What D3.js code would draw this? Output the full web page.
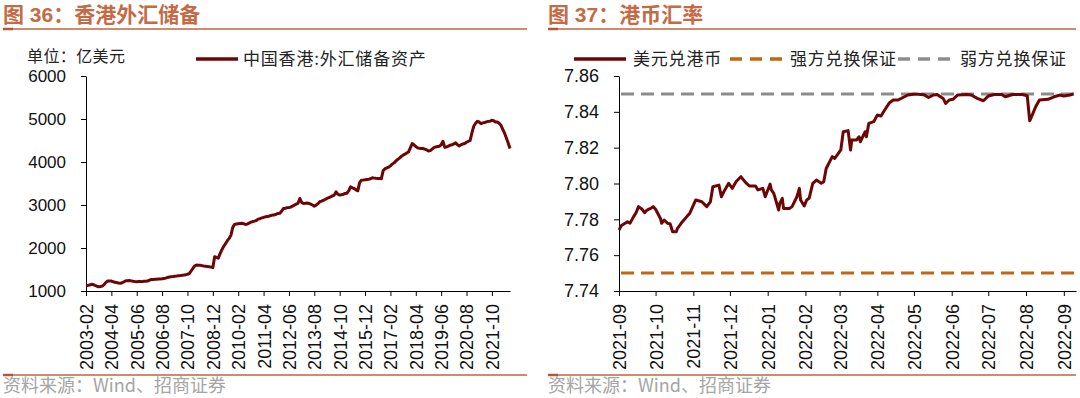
<!DOCTYPE html>
<html><head><meta charset="utf-8">
<script src="https://cdn.jsdelivr.net/npm/d3@7"></script>
<style>
html,body{margin:0;padding:0;background:#fff;}
svg{display:block;}
</style></head><body>
<svg id="c" width="1080" height="398"></svg>
<script>
// ---------------- DATA ----------------
// Left: Hong Kong FX reserve assets (100 million USD), monthly from 2003-02
const reserveStart = "2003-02";
const reserves = [
  1124,1130,1140,1155,1150,1130,1112,1100,1105,1115,1150,            // 2003 Feb-Dec
  1200,1232,1235,1230,1215,1205,1195,1185,1180,1190,1215,1240,       // 2004
  1240,1245,1235,1225,1220,1217,1220,1222,1218,1225,1228,1232,       // 2005
  1250,1270,1265,1272,1275,1280,1278,1283,1292,1300,1315,1325,       // 2006
  1333,1338,1345,1350,1356,1360,1365,1372,1380,1390,1405,1465,       // 2007
  1526,1585,1604,1600,1598,1590,1580,1575,1570,1565,1555,1545,       // 2008
  1797,1780,1765,1870,1960,2040,2100,2170,2223,2300,2480,2550,       // 2009
  2560,2565,2570,2575,2565,2548,2555,2580,2600,2615,2625,2640,       // 2010
  2672,2680,2700,2710,2726,2730,2740,2755,2765,2770,2785,2803,       // 2011
  2810,2860,2920,2925,2935,2940,2950,2975,2997,3020,3040,3152,       // 2012
  3060,3036,3040,3045,3036,3020,3000,2974,2995,3030,3075,3090,       // 2013
  3110,3130,3152,3170,3190,3210,3230,3306,3250,3230,3240,3250,       // 2014
  3268,3275,3330,3423,3400,3384,3350,3330,3520,3577,3580,3585,       // 2015
  3593,3600,3610,3632,3625,3620,3618,3616,3612,3800,3840,3865,       // 2016
  3880,3910,3950,3980,4020,4060,4090,4130,4160,4181,4210,4235,       // 2017
  4330,4429,4400,4360,4328,4320,4315,4313,4300,4280,4258,4265,       // 2018
  4300,4336,4350,4360,4367,4400,4483,4340,4350,4370,4390,4400,       // 2019
  4420,4444,4400,4375,4400,4420,4430,4460,4483,4500,4680,4831,       // 2020
  4900,4947,4930,4893,4910,4920,4932,4945,4950,4970,4960,4932,       // 2021
  4930,4900,4855,4760,4670,4560,4440,4313                            // 2022 Jan-Aug
];
const leftXTicks = ["2003-02","2004-04","2005-06","2006-08","2007-10","2008-12","2010-02",
  "2011-04","2012-06","2013-08","2014-10","2015-12","2017-02","2018-04","2019-06","2020-08","2021-10"];
const leftYTicks = [1000,2000,3000,4000,5000,6000];

// Right: USD/HKD
const fxDates = [
  "2021-09-01","2021-09-03","2021-09-06","2021-09-08","2021-09-10","2021-09-13","2021-09-15","2021-09-17",
  "2021-09-20","2021-09-22","2021-09-24","2021-09-27","2021-09-29","2021-10-01","2021-10-05","2021-10-06",
  "2021-10-08","2021-10-11","2021-10-13","2021-10-15","2021-10-18","2021-10-19","2021-10-22","2021-10-27",
  "2021-10-29","2021-11-03","2021-11-08","2021-11-12","2021-11-15","2021-11-17","2021-11-22","2021-11-24",
  "2021-11-26","2021-11-30","2021-12-03","2021-12-06","2021-12-10","2021-12-14","2021-12-17","2021-12-22",
  "2021-12-24","2021-12-28","2021-12-30","2022-01-03","2022-01-04","2022-01-06","2022-01-10","2022-01-11",
  "2022-01-13","2022-01-14","2022-01-19","2022-01-21","2022-01-25","2022-01-27","2022-01-28","2022-01-31",
  "2022-02-02","2022-02-04","2022-02-07","2022-02-10","2022-02-14","2022-02-16","2022-02-18","2022-02-23",
  "2022-02-25","2022-02-28","2022-03-02","2022-03-04","2022-03-08","2022-03-10","2022-03-11","2022-03-15",
  "2022-03-17","2022-03-18","2022-03-22","2022-03-23","2022-03-25","2022-03-29","2022-04-01","2022-04-04",
  "2022-04-07","2022-04-11","2022-04-14","2022-04-18","2022-04-22","2022-04-26","2022-05-02","2022-05-09",
  "2022-05-13","2022-05-17","2022-05-20","2022-05-25","2022-05-27","2022-05-30","2022-06-02","2022-06-06",
  "2022-06-13","2022-06-17","2022-06-22","2022-06-27","2022-07-01","2022-07-06","2022-07-12","2022-07-15",
  "2022-07-21","2022-07-29","2022-08-02","2022-08-04","2022-08-05","2022-08-09","2022-08-12","2022-08-19",
  "2022-08-24","2022-08-29","2022-09-01","2022-09-06","2022-09-09"
];
const fxValues = [
  7.7740,7.7765,7.7778,7.7787,7.7778,7.7815,7.7837,7.7871,
  7.7856,7.7837,7.7852,7.7861,7.7871,7.7856,7.7805,7.7778,
  7.7796,7.7778,7.7774,7.7731,7.7731,7.7750,7.7778,7.7818,
  7.7833,7.7908,7.7898,7.7871,7.7898,7.7982,7.7991,7.7926,
  7.7954,7.8001,7.7973,7.8010,7.8038,7.8005,7.7986,7.7986,
  7.7964,7.7973,7.7926,7.7997,7.7964,7.7945,7.7852,7.7890,
  7.7917,7.7861,7.7861,7.7871,7.7926,7.7973,7.7908,7.7875,
  7.7908,7.7917,7.8001,7.8019,7.8001,7.8010,7.8084,7.8150,
  7.8140,7.8168,7.8187,7.8289,7.8295,7.8187,7.8243,7.8243,
  7.8261,7.8233,7.8289,7.8261,7.8336,7.8345,7.8382,7.8377,
  7.8410,7.8451,7.8466,7.8466,7.8480,7.8494,7.8500,7.8496,
  7.8480,7.8494,7.8497,7.8475,7.8447,7.8466,7.8470,7.8494,
  7.8497,7.8494,7.8475,7.8462,7.8488,7.8497,7.8497,7.8484,
  7.8497,7.8497,7.8490,7.8350,7.8365,7.8430,7.8466,7.8470,
  7.8484,7.8494,7.8488,7.8494,7.8500
];
const strongSide = 7.75;
const weakSide = 7.85;
const rightXTicks = ["2021-09","2021-10","2021-11","2021-12","2022-01","2022-02","2022-03",
  "2022-04","2022-05","2022-06","2022-07","2022-08","2022-09"];
const rightYTicks = [7.74,7.76,7.78,7.80,7.82,7.84,7.86];

// ---------------- DRAW ----------------
const svg = d3.select("#c");
const NUM = "'Liberation Sans', Arial, sans-serif";
const CJK = "'Noto Sans CJK SC', sans-serif";
const titleColor = "#C46A45";
const ruleColor = "#D08A6C";
const lineColor = "#6E0505";

function panelFrame(x0, x1, title) {
  svg.append("text").attr("x", x0).attr("y", 22)
    .attr("font-family", "'Liberation Sans','Noto Sans CJK SC',sans-serif")
    .attr("font-weight", 700).attr("font-size", 21).attr("fill", titleColor)
    .text(title);
  [29, 375].forEach(yy => {
    svg.append("line").attr("x1", x0).attr("x2", x1).attr("y1", yy).attr("y2", yy)
      .attr("stroke", ruleColor).attr("stroke-width", 2);
    svg.append("line").attr("x1", x0).attr("x2", x0 + 10).attr("y1", yy).attr("y2", yy)
      .attr("stroke", "#B0583A").attr("stroke-width", 2.5);
  });
  svg.append("text").attr("x", x0).attr("y", 392)
    .attr("font-family", "'Noto Sans CJK SC','Liberation Sans',sans-serif")
    .attr("font-size", 18).attr("fill", "#A5A5A5")
    .text("资料来源：Wind、招商证券");
}
panelFrame(3, 527, "图 36：香港外汇储备");
panelFrame(548, 1076, "图 37：港币汇率");

function styleAxis(g) {
  g.selectAll("path.domain").attr("stroke", "#000").attr("stroke-width", 1);
  g.selectAll(".tick line").attr("stroke", "#000").attr("stroke-width", 1);
  g.selectAll("text").attr("fill", "#111").attr("font-family", NUM);
}
function rotateLabels(g) {
  g.selectAll("text").attr("transform", "rotate(-90)").attr("text-anchor", "end")
    .attr("x", -13).attr("y", 0).attr("dy", "0.36em").attr("font-size", 18);
}

// ----- Left chart -----
const parseM = d3.timeParse("%Y-%m");
const fmtM = d3.timeFormat("%Y-%m");
const start = parseM(reserveStart);
const monthLabels = reserves.map((_, i) => fmtM(d3.timeMonth.offset(start, i)));
const yTop = 76, yBot = 291;

const xL = d3.scalePoint().domain(monthLabels).range([86, 510]);
const yL = d3.scaleLinear().domain([1000, 6000]).range([yBot, yTop]);

const gLX = svg.append("g").attr("transform", `translate(0,${yBot})`)
  .call(d3.axisBottom(xL).tickValues(leftXTicks).tickSize(5).tickSizeOuter(0));
styleAxis(gLX); rotateLabels(gLX);
const gLY = svg.append("g").attr("transform", `translate(86,0)`)
  .call(d3.axisLeft(yL).tickValues(leftYTicks).tickSize(5).tickSizeOuter(0).tickPadding(15).tickFormat(d3.format("d")));
styleAxis(gLY); gLY.selectAll("text").attr("font-size", 17);

svg.append("path").datum(reserves)
  .attr("fill", "none").attr("stroke", lineColor).attr("stroke-width", 3)
  .attr("stroke-linejoin", "round")
  .attr("d", d3.line().x((d, i) => xL(monthLabels[i])).y(d => yL(d)));

svg.append("text").attr("x", 27).attr("y", 62).attr("font-family", CJK)
  .attr("font-size", 16).attr("letter-spacing", 0.4).attr("fill", "#222").text("单位：亿美元");
svg.append("line").attr("x1", 196).attr("x2", 238).attr("y1", 59).attr("y2", 59)
  .attr("stroke", lineColor).attr("stroke-width", 3.5);
svg.append("text").attr("x", 243).attr("y", 65).attr("font-family", CJK)
  .attr("font-size", 17).attr("letter-spacing", 0.8).attr("fill", "#222").text("中国香港:外汇储备资产");

// ----- Right chart -----
const parseD = d3.timeParse("%Y-%m-%d");
const fxData = fxDates.map((d, i) => ({ date: parseD(d), v: fxValues[i] }));
const xR = d3.scaleTime().domain([parseD("2021-09-01"), parseD("2022-09-11")]).range([619, 1076]);
const yR = d3.scaleLinear().domain([7.74, 7.86]).range([yBot, yTop]);

const gRX = svg.append("g").attr("transform", `translate(0,${yBot})`)
  .call(d3.axisBottom(xR).tickValues(rightXTicks.map(parseM)).tickFormat(fmtM).tickSize(5).tickSizeOuter(0));
styleAxis(gRX); rotateLabels(gRX);
const gRY = svg.append("g").attr("transform", `translate(619,0)`)
  .call(d3.axisLeft(yR).tickValues(rightYTicks).tickSize(5).tickSizeOuter(0).tickPadding(15).tickFormat(d3.format(".2f")));
styleAxis(gRY); gRY.selectAll("text").attr("font-size", 18);

const orange = "#C5650F", grey = "#8C8C8C";
[[weakSide, grey], [strongSide, orange]].forEach(([v, c]) => {
  svg.append("line").attr("x1", xR.range()[0] + 2).attr("x2", xR.range()[1])
    .attr("y1", yR(v)).attr("y2", yR(v))
    .attr("stroke", c).attr("stroke-width", 3).attr("stroke-dasharray", "13,7");
});

svg.append("path").datum(fxData)
  .attr("fill", "none").attr("stroke", lineColor).attr("stroke-width", 3)
  .attr("stroke-linejoin", "round")
  .attr("d", d3.line().x(d => xR(d.date)).y(d => yR(d.v)));

// legend
const legY = 59;
svg.append("line").attr("x1", 574).attr("x2", 626).attr("y1", legY).attr("y2", legY)
  .attr("stroke", lineColor).attr("stroke-width", 3.5);
svg.append("text").attr("x", 633).attr("y", 65).attr("font-family", CJK)
  .attr("font-size", 17).attr("letter-spacing", 0.8).attr("fill", "#222").text("美元兑港币");
svg.append("line").attr("x1", 730).attr("x2", 783).attr("y1", legY).attr("y2", legY)
  .attr("stroke", orange).attr("stroke-width", 3.5).attr("stroke-dasharray", "12,8");
svg.append("text").attr("x", 790).attr("y", 65).attr("font-family", CJK)
  .attr("font-size", 17).attr("letter-spacing", 0.8).attr("fill", "#222").text("强方兑换保证");
svg.append("line").attr("x1", 898).attr("x2", 951).attr("y1", legY).attr("y2", legY)
  .attr("stroke", grey).attr("stroke-width", 3.5).attr("stroke-dasharray", "12,8");
svg.append("text").attr("x", 960).attr("y", 65).attr("font-family", CJK)
  .attr("font-size", 17).attr("letter-spacing", 0.8).attr("fill", "#222").text("弱方兑换保证");
</script>
</body></html>
